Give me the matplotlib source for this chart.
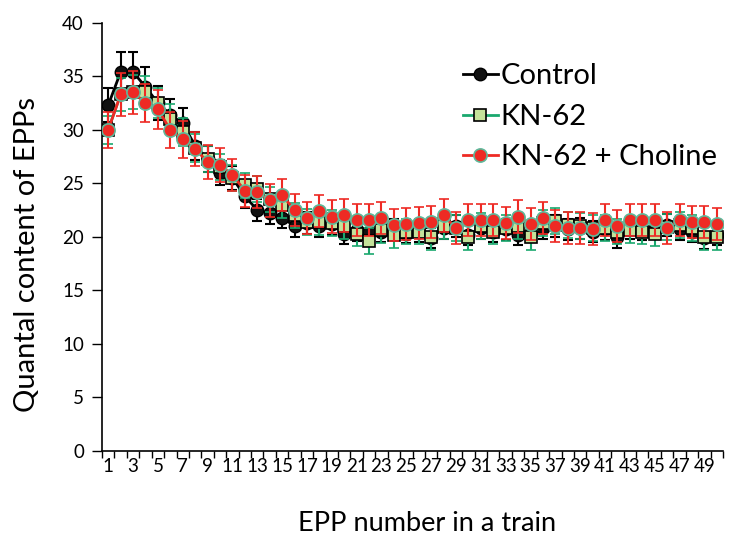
import numpy as np
import matplotlib.pyplot as plt

plt.rcParams['font.family'] = ['Lato', 'DejaVu Sans']

# --- DATA ---
epp = np.arange(1, 51)

control = [32.3, 35.4, 35.4, 34.0, 32.5, 31.4, 30.6, 28.5, 27.3, 26.0,
           25.5, 23.8, 22.5, 22.2, 21.8, 21.0, 21.3, 21.0, 21.2, 20.3,
           20.6, 20.5, 20.5, 20.8, 20.3, 20.5, 19.9, 20.8, 21.0, 20.2,
           20.8, 20.5, 20.7, 20.2, 20.5, 20.8, 21.0, 20.7, 20.8, 20.5,
           20.7, 20.0, 20.8, 20.7, 20.8, 21.1, 20.7, 20.5, 19.9, 20.2]
control_err = [1.6, 1.9, 1.9, 1.9, 1.6, 1.5, 1.4, 1.3, 1.2, 1.2,
               1.1, 1.1, 1.0, 1.0, 1.0, 1.0, 1.0, 1.0, 1.0, 1.0,
               1.0, 1.0, 1.0, 0.9, 0.9, 1.0, 0.9, 1.0, 1.0, 1.0,
               1.0, 1.0, 1.0, 1.0, 1.0, 1.0, 1.0, 1.0, 1.0, 1.0,
               1.0, 1.0, 1.0, 1.0, 1.0, 1.0, 1.0, 1.0, 1.0, 1.0]

kn62 = [30.0, 33.3, 33.5, 33.5, 32.5, 31.0, 29.8, 28.3, 27.3, 26.5,
        25.5, 24.8, 24.5, 23.5, 23.0, 22.0, 21.4, 21.4, 21.3, 21.0,
        20.3, 19.6, 20.6, 20.2, 20.5, 20.5, 20.0, 21.0, 20.8, 20.0,
        21.0, 20.5, 20.8, 21.0, 20.0, 21.3, 21.5, 21.1, 21.0, 20.8,
        20.8, 20.5, 20.6, 20.5, 20.3, 20.9, 21.1, 20.8, 20.0, 20.0]
kn62_err = [1.3, 1.5, 1.6, 1.5, 1.4, 1.4, 1.3, 1.3, 1.2, 1.2,
            1.2, 1.2, 1.2, 1.2, 1.2, 1.2, 1.2, 1.2, 1.2, 1.2,
            1.2, 1.2, 1.2, 1.2, 1.2, 1.2, 1.2, 1.2, 1.2, 1.2,
            1.2, 1.2, 1.2, 1.2, 1.2, 1.2, 1.2, 1.2, 1.2, 1.2,
            1.2, 1.2, 1.2, 1.2, 1.2, 1.2, 1.2, 1.2, 1.2, 1.2]

choline = [30.0, 33.3, 33.5, 32.5, 31.9, 30.0, 29.1, 28.2, 27.0, 26.7,
           25.8, 24.3, 24.2, 23.4, 23.9, 22.5, 21.8, 22.4, 21.9, 22.0,
           21.6, 21.6, 21.8, 21.1, 21.2, 21.3, 21.4, 22.0, 20.8, 21.6,
           21.6, 21.6, 21.3, 21.9, 21.2, 21.8, 21.0, 20.8, 20.8, 20.7,
           21.6, 21.0, 21.6, 21.6, 21.6, 20.8, 21.6, 21.4, 21.4, 21.2]
choline_err = [1.7, 2.0, 2.0, 1.8, 1.8, 1.7, 1.7, 1.6, 1.6, 1.6,
               1.5, 1.5, 1.5, 1.5, 1.5, 1.5, 1.5, 1.5, 1.5, 1.5,
               1.5, 1.5, 1.5, 1.5, 1.5, 1.5, 1.5, 1.5, 1.5, 1.5,
               1.5, 1.5, 1.5, 1.5, 1.5, 1.5, 1.5, 1.5, 1.5, 1.5,
               1.5, 1.5, 1.5, 1.5, 1.5, 1.5, 1.5, 1.5, 1.5, 1.5]

# --- PLOT ---
fig = plt.figure(figsize=(7.48, 5.46), dpi=100)
ax = fig.add_axes([0.1364, 0.174, 0.8302, 0.7844])

eb1 = ax.errorbar(epp, control, yerr=control_err, color='black', ecolor='black',
                  linewidth=2, elinewidth=1.5, capsize=3.5, capthick=1.5,
                  marker='o', markersize=9, markerfacecolor='#111111',
                  markeredgecolor='black', zorder=2)
eb2 = ax.errorbar(epp, kn62, yerr=kn62_err, color='#1aa86e', ecolor='#1aa86e',
                  linewidth=2, elinewidth=1.5, capsize=3.5, capthick=1.5,
                  marker='s', markersize=8, markerfacecolor='#c4e29a',
                  markeredgecolor='black', markeredgewidth=1.2, zorder=3)
eb3 = ax.errorbar(epp, choline, yerr=choline_err, color='#ee2a24', ecolor='#ee2a24',
                  linewidth=2, elinewidth=1.5, capsize=3.5, capthick=1.5,
                  marker='o', markersize=9.5, markerfacecolor='#ee2a24',
                  markeredgecolor='#5fb89a', markeredgewidth=1.2, zorder=4)

ax.set_xlim(0.5, 50.5)
ax.set_ylim(0, 40)
ax.set_yticks(np.arange(0, 41, 5))
ax.set_xticks(np.arange(0.5, 51, 1))
ax.set_xticklabels([])
ax.set_xticks(epp[::2], minor=True)
ax.set_xticklabels([str(v) for v in epp[::2]], minor=True)
ax.tick_params(axis='x', which='major', direction='out', length=5, width=1)
ax.tick_params(axis='x', which='minor', length=0, labelsize=13.5, pad=5)
ax.tick_params(axis='y', direction='out', length=7, width=1, labelsize=13.5, pad=6)

for s in ['top', 'right']:
    ax.spines[s].set_visible(False)
for s in ['left', 'bottom']:
    ax.spines[s].set_linewidth(1.2)

ax.set_ylabel('Quantal content of EPPs', fontsize=21)
ax.yaxis.set_label_coords(-0.1, 0.458)
ax.set_xlabel('EPP number in a train', fontsize=19.5)
ax.xaxis.set_label_coords(0.523, -0.141)

# legend shows line + marker only
leg = ax.legend([eb1[0], eb2[0], eb3[0]], ['Control', 'KN-62', 'KN-62 + Choline'],
                loc='upper left', bbox_to_anchor=(0.599, 0.911),
                bbox_transform=fig.transFigure, frameon=False,
                fontsize=21, handlelength=1.2, handletextpad=0.1,
                labelspacing=0.5, borderpad=0)

fig.savefig('out.png', dpi=100)
